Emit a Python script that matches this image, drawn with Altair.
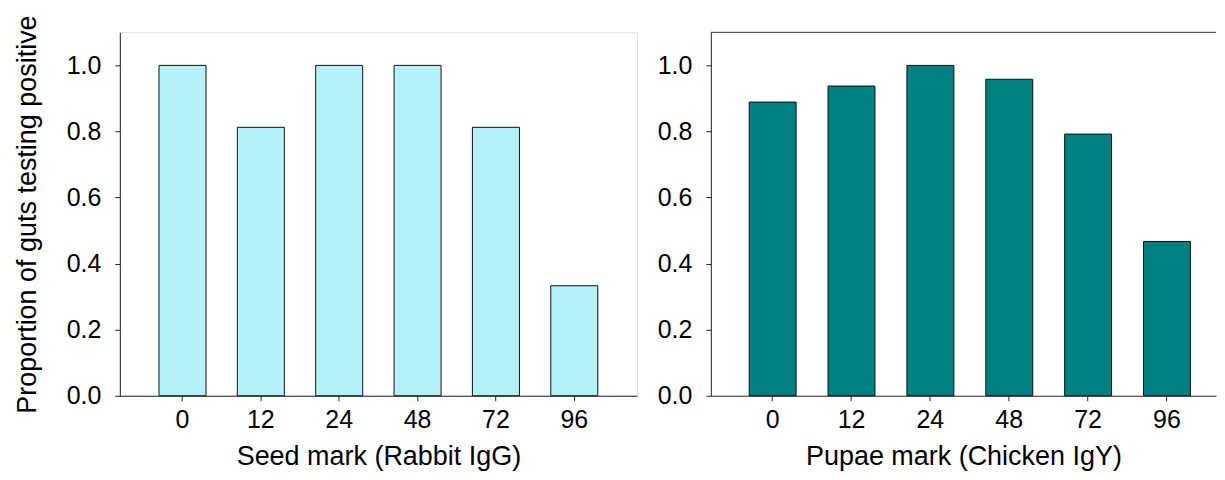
import altair as alt
import pandas as pd

hours = ["0", "12", "24", "48", "72", "96"]
seed_prop = [1.0, 0.8125, 1.0, 1.0, 0.8125, 0.333]
pupae_prop = [0.889, 0.9375, 1.0, 0.958, 0.792, 0.467]
y_ticks = [0.0, 0.2, 0.4, 0.6, 0.8, 1.0]

FONT = "Liberation Sans"
LABEL_FS = 25
TITLE_FS = 27

seed_df = pd.DataFrame({"hour": hours, "prop": seed_prop})
pupae_df = pd.DataFrame({"hour": hours, "prop": pupae_prop})


def x_axis(title):
    return alt.Axis(
        title=title, labelAngle=0, tickSize=5, labelPadding=7,
        labelFontSize=LABEL_FS, titleFontSize=TITLE_FS, titleFontWeight="normal",
        labelFont=FONT, titleFont=FONT, titlePadding=11,
        domainColor="#222", tickColor="#222", labelColor="black", titleColor="black",
    )


def y_axis(title):
    kw = dict(
        values=y_ticks, format=".1f", grid=False, tickSize=5, labelPadding=14,
        labelFontSize=LABEL_FS, titleFontSize=TITLE_FS, titleFontWeight="normal",
        labelFont=FONT, titleFont=FONT, titlePadding=25,
        domainColor="#222", tickColor="#222", labelColor="black", titleColor="black",
    )
    if title:
        return alt.Axis(title=title, **kw)
    return alt.Axis(title=None, **kw)


left = alt.Chart(seed_df).mark_bar(fill="#b5f2f8", stroke="#111", strokeWidth=1).encode(
    x=alt.X("hour:O", sort=hours,
            scale=alt.Scale(paddingInner=0.4, paddingOuter=0.5),
            axis=x_axis("Seed mark (Rabbit IgG)")),
    y=alt.Y("prop:Q", scale=alt.Scale(domain=[0, 1.1], nice=False),
            axis=y_axis("Proportion of guts testing positive")),
).properties(width=518, height=364)

RW = 506
right_bars = alt.Chart(pupae_df).mark_bar(fill="#008080", stroke="#111", strokeWidth=1).encode(
    x=alt.X("hour:O", sort=hours,
            scale=alt.Scale(paddingInner=0.405, paddingOuter=0.405, align=0.6),
            axis=x_axis("Pupae mark (Chicken IgY)")),
    y=alt.Y("prop:Q", scale=alt.Scale(domain=[0, 1.1], nice=False),
            axis=y_axis(None)),
)
top_line = alt.Chart(alt.Data(values=[{"a": 1}])).mark_rule(color="#333", strokeWidth=1).encode(
    x=alt.value(0), x2=alt.value(RW), y=alt.value(0)
)
right = alt.layer(right_bars, top_line).properties(
    width=RW, height=364, view=alt.ViewBackground(stroke="transparent")
)

chart = alt.hconcat(left, right, spacing=18).configure_view(
    stroke="#333", strokeWidth=1
).configure(background="white", padding={"top": 5, "left": 4, "right": 0, "bottom": 0})

chart.save("out.html", embed_options={"renderer": "svg", "actions": False})
